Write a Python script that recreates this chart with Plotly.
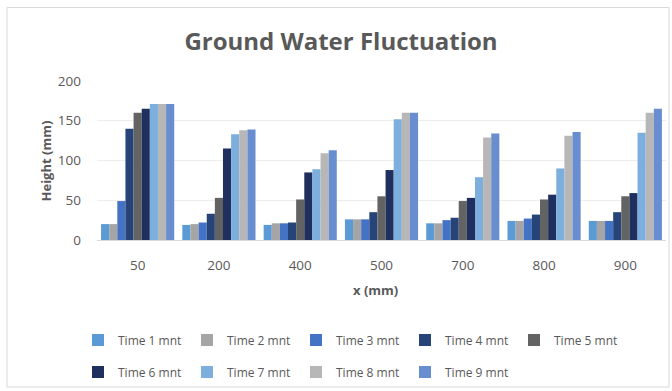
import plotly.graph_objects as go

categories = ["50", "200", "400", "500", "700", "800", "900"]
series_names = ["Time 1 mnt", "Time 2 mnt", "Time 3 mnt", "Time 4 mnt", "Time 5 mnt",
                "Time 6 mnt", "Time 7 mnt", "Time 8 mnt", "Time 9 mnt"]
t1 = [20, 19, 19, 26, 21, 24, 24]
t2 = [20, 20, 21, 26, 21, 24, 24]
t3 = [49, 22, 21, 26, 25, 27, 24]
t4 = [140, 33, 22, 35, 28, 32, 35]
t5 = [160, 53, 51, 55, 49, 51, 55]
t6 = [165, 115, 85, 88, 53, 57, 59]
t7 = [171, 133, 89, 152, 79, 90, 135]
t8 = [171, 138, 109, 160, 129, 131, 160]
t9 = [171, 139, 113, 160, 134, 136, 165]
series_values = [t1, t2, t3, t4, t5, t6, t7, t8, t9]
colors = ["#5B9BD5", "#A5A5A5", "#4472C4", "#264478", "#636363",
          "#1F2F5E", "#7CAFDD", "#B7B7B7", "#698ED0"]

W, H = 672, 391
L, R, T, B = 97, 6, 81, 150
pw, ph = W - L - R, H - T - B

def px_x(p):
    return (p - L) / pw

def px_y(p):
    return (H - B - p) / ph

FONT = "Open Sans"
TXT = "#595959"

fig = go.Figure()
for i, (name, vals, col) in enumerate(zip(series_names, series_values, colors)):
    fig.add_trace(go.Bar(
        x=categories, y=vals, name=name, marker_color=col, marker_line_width=0,
        legend="legend" if i < 5 else "legend2",
    ))

leg_common = dict(orientation="h", xanchor="left", yanchor="middle",
                  font=dict(size=12, color=TXT), entrywidth=64, entrywidthmode="pixels",
                  itemwidth=30, bgcolor="rgba(0,0,0,0)", tracegroupgap=0)

fig.update_layout(
    width=W, height=H,
    margin=dict(l=L, r=R, t=T, b=B),
    paper_bgcolor="white", plot_bgcolor="white",
    barmode="group", bargap=0.1, bargroupgap=0,
    font=dict(family=FONT, color=TXT, size=12),
    title=dict(text="<b>Ground Water Fluctuation</b>", x=341 / W, xanchor="center",
               y=1 - 42 / H, yanchor="middle", yref="container",
               font=dict(size=24, color=TXT, family=FONT)),
    xaxis=dict(type="category", showgrid=False, showline=True, linecolor="#D9D9D9",
               ticks="", ticklabelstandoff=13, tickfont=dict(size=13.5, color=TXT)),
    yaxis=dict(range=[0, 200], dtick=50, showgrid=True, gridcolor="#EDEDED",
               zeroline=False, showline=False, ticks="", ticklabelstandoff=15,
               tickfont=dict(size=13.5, color=TXT)),
    legend=dict(x=px_x(78), y=px_y(340), **leg_common),
    legend2=dict(x=px_x(78), y=px_y(372), **leg_common),
    annotations=[
        dict(text="<b>x (mm)</b>", x=px_x(375), y=px_y(291), xref="paper", yref="paper",
             showarrow=False, font=dict(size=13, color=TXT), xanchor="center", yanchor="middle"),
        dict(text="<b>Height (mm)</b>", x=px_x(45), y=px_y(161), xref="paper", yref="paper",
             showarrow=False, textangle=-90, font=dict(size=13, color=TXT),
             xanchor="center", yanchor="middle"),
    ],
    shapes=[dict(type="rect", xref="paper", yref="paper",
                 x0=px_x(7), x1=px_x(669), y0=px_y(389), y1=px_y(7),
                 line=dict(color="#D9D9D9", width=1), fillcolor="rgba(0,0,0,0)", layer="below")],
)

fig.write_html("out.html")
